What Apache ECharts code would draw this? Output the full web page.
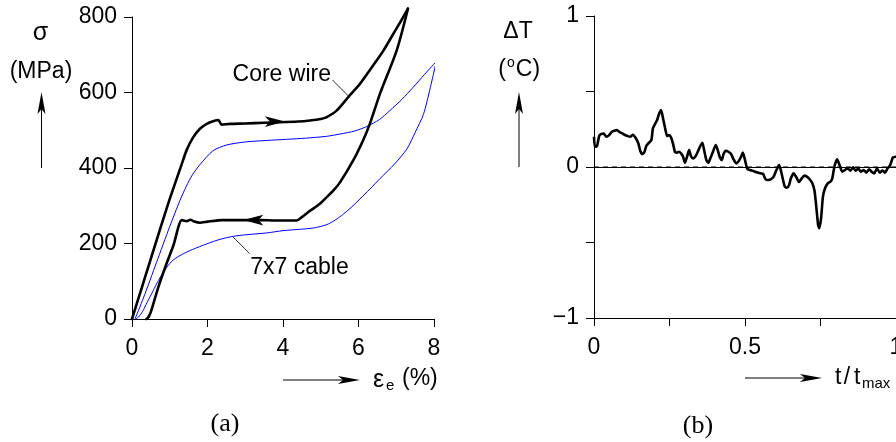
<!DOCTYPE html>
<html>
<head>
<meta charset="utf-8">
<script src="https://cdn.jsdelivr.net/npm/echarts@6/dist/echarts.min.js"></script>
<style>
  html, body { margin: 0; padding: 0; background: #fff; }
  #chart { width: 896px; height: 442px; }
</style>
</head>
<body>
<div id="chart"></div>
<script>
// (a) stress–strain loops: [strain %, stress MPa]
var coreLoading = [
  [0, 0], [0.25, 80], [0.5, 160], [0.75, 240], [1.0, 318], [1.32, 411], [1.45, 448],
  [1.62, 481], [1.8, 504], [1.98, 517], [2.15, 524], [2.29, 527], [2.37, 515],
  [2.6, 517], [3.0, 518], [3.5, 520], [3.92, 521], [4.4, 523], [4.72, 526],
  [5.0, 530], [5.16, 535], [5.42, 552], [5.73, 588], [6.04, 623], [6.39, 672],
  [6.66, 711], [6.92, 755], [7.1, 785], [7.31, 822]
];
var coreUnloading = [
  [7.31, 822], [7.01, 711], [6.57, 597], [6.3, 517], [6.12, 473], [5.86, 420],
  [5.51, 362], [5.33, 340], [5.16, 323], [4.95, 303], [4.72, 287], [4.5, 270],
  [4.36, 261], [3.8, 261], [3.4, 262], [2.9, 262], [2.4, 262], [2.0, 258],
  [1.8, 255], [1.65, 258], [1.55, 263], [1.45, 259], [1.32, 262],
  [1.1, 196], [0.88, 137], [0.7, 85], [0.55, 35], [0.48, 14], [0.42, 3], [0.38, 0]
];
var cableLoading = [
  [0.08, 0], [0.3, 55], [0.65, 150], [1.0, 245], [1.27, 314], [1.44, 352],
  [1.6, 382], [1.8, 409], [2.15, 446], [2.51, 461], [3.0, 469], [3.57, 473],
  [4.1, 476], [4.6, 479], [5.16, 484], [5.51, 490], [5.9, 498], [6.22, 510],
  [6.55, 528], [6.83, 552], [7.15, 582], [7.45, 614], [7.75, 648], [8.06, 682]
];
var cableUnloading = [
  [8.06, 682], [7.9, 612], [7.72, 542], [7.5, 494], [7.28, 450], [6.95, 410],
  [6.57, 372], [6.3, 344], [6.04, 318], [5.8, 295], [5.55, 274], [5.35, 260],
  [5.16, 250], [4.8, 241], [4.0, 234], [3.57, 228], [3.0, 223], [2.68, 219], [2.33, 211],
  [1.98, 199], [1.6, 184], [1.36, 173], [1.1, 157], [0.92, 137], [0.7, 102],
  [0.56, 75], [0.4, 44], [0.28, 20], [0.17, 5], [0.1, 0]
];
// direction markers on the core-wire loop: [strain, stress]
var loadArrow = [[4.05, 523]];
var unloadArrow = [[2.95, 262]];
// curve annotations
var curveNames = ['Core wire', '7x7 cable'];
var nameAnchors = [[2.65, 648], [3.12, 136]];
var coreLeader = [[5.32, 632], [5.76, 588]];
var cableLeader = [[2.68, 217], [3.11, 174]];

// (b) temperature change over the normalised cycle time: [t/tmax, dT]
var tempTrace = [
  [0, 0.200], [0.003, 0.134], [0.010, 0.139], [0.017, 0.205], [0.023, 0.218], [0.032, 0.222],
  [0.041, 0.200], [0.050, 0.211], [0.058, 0.231], [0.067, 0.240], [0.076, 0.244], [0.085, 0.231],
  [0.094, 0.222], [0.103, 0.211], [0.111, 0.205], [0.120, 0.200], [0.129, 0.214], [0.138, 0.192],
  [0.147, 0.156], [0.153, 0.108], [0.160, 0.086], [0.167, 0.099], [0.173, 0.139], [0.182, 0.161],
  [0.190, 0.178], [0.195, 0.256], [0.202, 0.284], [0.209, 0.311], [0.215, 0.350], [0.222, 0.377],
  [0.228, 0.328], [0.235, 0.262], [0.242, 0.205], [0.248, 0.211], [0.255, 0.196], [0.262, 0.152],
  [0.268, 0.099], [0.275, 0.095], [0.281, 0.101], [0.288, 0.090], [0.295, 0.068], [0.301, 0.029],
  [0.308, 0.068], [0.315, 0.112], [0.321, 0.073], [0.328, 0.057], [0.337, 0.073], [0.345, 0.108],
  [0.352, 0.139], [0.359, 0.161], [0.365, 0.108], [0.372, 0.046], [0.379, 0.029], [0.385, 0.057],
  [0.394, 0.101], [0.403, 0.145], [0.409, 0.117], [0.416, 0.068], [0.423, 0.046], [0.429, 0.086],
  [0.436, 0.108], [0.445, 0.101], [0.454, 0.086], [0.462, 0.051], [0.471, 0.024], [0.480, 0.042],
  [0.487, 0.068], [0.493, 0.095], [0.500, 0.046], [0.507, -0.009], [0.515, -0.020], [0.524, -0.024],
  [0.533, -0.031], [0.542, -0.037], [0.551, -0.042], [0.560, -0.046], [0.568, -0.081], [0.577, -0.086],
  [0.586, -0.081], [0.595, -0.064], [0.604, -0.020], [0.613, 0.013], [0.619, -0.024], [0.626, -0.086],
  [0.632, -0.130], [0.639, -0.137], [0.646, -0.119], [0.652, -0.075], [0.661, -0.042], [0.670, -0.068],
  [0.679, -0.099], [0.688, -0.075], [0.696, -0.057], [0.705, -0.064], [0.714, -0.081], [0.723, -0.108],
  [0.730, -0.156], [0.736, -0.262], [0.742, -0.383], [0.746, -0.405], [0.752, -0.339], [0.758, -0.196],
  [0.765, -0.141], [0.774, -0.108], [0.783, -0.097], [0.789, -0.075], [0.796, 0.002], [0.805, 0.051],
  [0.813, 0.013], [0.822, -0.031], [0.831, -0.020], [0.840, -0.009], [0.849, -0.024], [0.858, -0.002],
  [0.866, -0.024], [0.875, -0.011], [0.884, -0.031], [0.893, -0.020], [0.902, -0.037], [0.911, -0.015],
  [0.919, -0.031], [0.928, -0.042], [0.937, -0.009], [0.946, -0.037], [0.955, -0.024], [0.964, -0.037],
  [0.972, -0.009], [0.981, 0.013], [0.990, 0.064], [1.000, 0.068]
];
var zeroLine = [[0, 0], [1, 0]];
var strainTicks = [0, 2, 4, 6, 8];
var stressTicks = [0, 200, 400, 600, 800];
var timeTickLabels = { 0: '0', 0.5: '0.5', 1: '1' };
var tempTickLabels = { '-1': '\u22121', 0: '0', 1: '1' };

var SANS = 'Liberation Sans, Arial, sans-serif';
var SERIF = 'Liberation Serif, Times New Roman, serif';
var FS = 23;

function axisCommon() {
  return {
    axisLine: { show: true, onZero: false, lineStyle: { color: '#000', width: 1 } },
    axisTick: { show: true, inside: false, length: 8, lineStyle: { color: '#000', width: 1 } },
    splitLine: { show: false },
    axisLabel: { color: '#000', fontFamily: SANS, fontSize: FS, showMinLabel: true, showMaxLabel: true }
  };
}
function ax(extra) {
  var base = axisCommon();
  for (var k in extra) {
    if (typeof extra[k] === 'object' && base[k] && !Array.isArray(extra[k])) {
      for (var j in extra[k]) base[k][j] = extra[k][j];
    } else base[k] = extra[k];
  }
  return base;
}

function lineSeries(data, color, width, xi, yi, z) {
  return {
    type: 'line', data: data, xAxisIndex: xi, yAxisIndex: yi,
    showSymbol: false, symbol: 'none', smooth: 0.25, silent: true, z: z || 2, clip: false,
    lineStyle: { color: color, width: width, join: 'round', cap: 'round' }
  };
}
function arrowSeries(data, rot) {
  return {
    type: 'scatter', data: data, xAxisIndex: 0, yAxisIndex: 0,
    symbol: 'arrow', symbolSize: [8, 20], symbolRotate: rot, silent: true, z: 5,
    itemStyle: { color: '#000', opacity: 1 }
  };
}

// arrow drawn beside an axis title
function titleArrow(x1, y1, x2, y2) {
  var dx = x2 - x1, dy = y2 - y1, len = Math.sqrt(dx * dx + dy * dy);
  var ux = dx / len, uy = dy / len, px = -uy, py = ux;
  var hl = 22, hw = 4, notch = 5;
  var bx = x2 - ux * hl, by = y2 - uy * hl;
  return [
    { type: 'line', shape: { x1: x1, y1: y1, x2: x2 - ux * 8, y2: y2 - uy * 8 },
      style: { stroke: '#000', lineWidth: 1 }, silent: true },
    { type: 'polygon', shape: { points: [
        [x2, y2], [bx + px * hw, by + py * hw], [bx + ux * notch, by + uy * notch], [bx - px * hw, by - py * hw]
      ] }, style: { fill: '#000' }, silent: true }
  ];
}
function txt(t, x, y, size, family, align) {
  return { type: 'text', x: x, y: y, silent: true,
    style: { text: t, font: size + 'px ' + family, fill: '#000',
      textAlign: align || 'center', textVerticalAlign: 'middle' } };
}

var graphics = [].concat(
  [txt('\u03c3', 40.5, 33, 25, SANS), txt('(MPa)', 41, 72, FS, SANS)],
  titleArrow(41.5, 168, 41.5, 92),
  titleArrow(283, 380, 360, 380),
  [txt('\u03b5', 373, 380, 25, SANS, 'left'), txt('e', 386, 386, 15, SANS, 'left'),
   txt('(%)', 402, 379, FS, SANS, 'left')],
  [txt('\u0394T', 518, 32, FS, SANS), txt('(', 502, 70, FS, SANS), txt('o', 511, 63, 14, SANS),
   txt('C)', 528, 70, FS, SANS)],
  titleArrow(519, 167, 519, 92),
  titleArrow(745, 378, 822, 378),
  [txt('t', 835, 378, FS, SANS, 'left'), txt('/', 847, 378, FS, SANS),
   txt('t', 854, 378, FS, SANS, 'left'), txt('max', 862, 384, 15, SANS, 'left')],
  [txt('(a)', 225, 424, 26, SERIF), txt('(b)', 698, 426, 26, SERIF)]
);

var chart = echarts.init(document.getElementById('chart'), null, { renderer: 'canvas' });
chart.setOption({
  animation: false,
  backgroundColor: '#fff',
  grid: [
    { left: 132, top: 17, width: 302, height: 302, outerBoundsMode: 'none', containLabel: false },
    { left: 594, top: 16, width: 302, height: 302, outerBoundsMode: 'none', containLabel: false }
  ],
  xAxis: [
    ax({ type: 'value', gridIndex: 0, min: strainTicks[0], max: strainTicks[strainTicks.length - 1],
         interval: 2, axisLabel: { margin: 18 } }),
    ax({ type: 'value', gridIndex: 1, min: 0, max: 1, interval: 0.25,
         axisLabel: { margin: 18, formatter: function (v) { return timeTickLabels[v] || ''; } } }),
    { type: 'value', gridIndex: 1, position: 'top', min: 0, max: 1,
      axisLine: { show: true, lineStyle: { color: '#000', width: 1 } },
      axisTick: { show: false }, axisLabel: { show: false }, splitLine: { show: false } }
  ],
  yAxis: [
    ax({ type: 'value', gridIndex: 0, min: stressTicks[0], max: stressTicks[stressTicks.length - 1],
         interval: 200, axisLabel: { margin: 15 } }),
    ax({ type: 'value', gridIndex: 1, min: -1, max: 1, interval: 0.5,
         axisLabel: { margin: 15, formatter: function (v) { return tempTickLabels[String(v)] || ''; } } })
  ],
  series: [
    lineSeries(cableLoading, '#0000ff', 1, 0, 0, 1),
    lineSeries(cableUnloading, '#0000ff', 1, 0, 0, 1),
    lineSeries(coreLoading, '#000', 2.6, 0, 0, 3),
    lineSeries(coreUnloading, '#000', 2.6, 0, 0, 3),
    arrowSeries(loadArrow, -90),
    arrowSeries(unloadArrow, 90),
    lineSeries(coreLeader, '#222', 1, 0, 0, 4),
    lineSeries(cableLeader, '#222', 1, 0, 0, 4),
    {
      type: 'scatter', xAxisIndex: 0, yAxisIndex: 0, silent: true, z: 6,
      data: nameAnchors.map(function (p, i) { return { value: p, name: curveNames[i] }; }),
      symbolSize: 1, itemStyle: { color: '#fff', opacity: 1 },
      label: { show: true, position: 'right', distance: 0, formatter: '{b}', opacity: 1,
               color: '#000', fontFamily: SANS, fontSize: FS }
    },
    {
      type: 'line', data: zeroLine, xAxisIndex: 1, yAxisIndex: 1,
      showSymbol: false, symbol: 'none', silent: true, z: 2,
      lineStyle: { color: '#000', width: 1, type: [5, 4] }
    },
    {
      type: 'line', data: tempTrace, xAxisIndex: 1, yAxisIndex: 1,
      showSymbol: false, symbol: 'none', smooth: 0.2, silent: true, z: 3,
      lineStyle: { color: '#000', width: 2.6, join: 'round' }
    }
  ],
  graphic: graphics
});
</script>
</body>
</html>
